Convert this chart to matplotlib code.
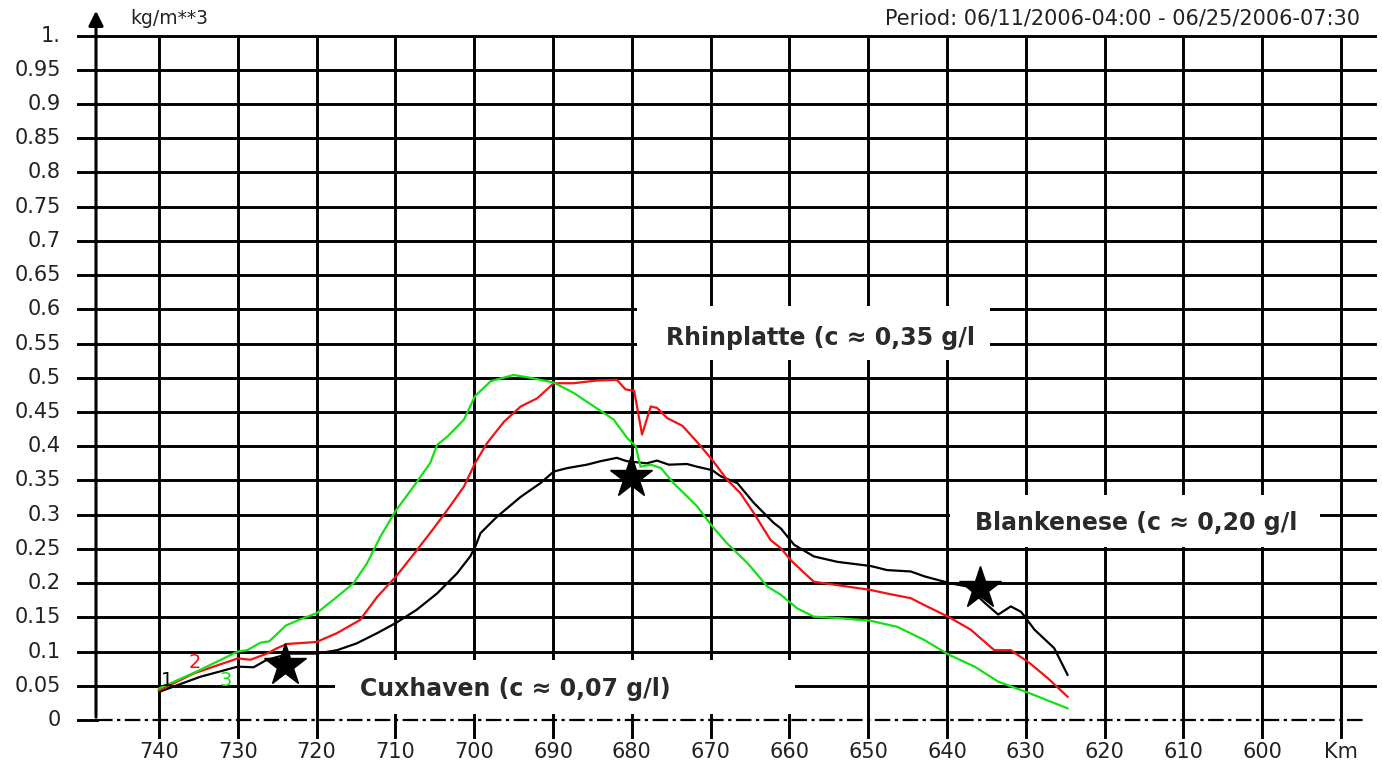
import matplotlib.pyplot as plt
from matplotlib.patches import Rectangle

# km along the river (decreasing downstream to upstream) and concentration in kg/m**3
KM_1 = [740, 734.8, 730, 728, 726.3, 723.4, 720, 717.4, 714.9, 712.3, 709.9, 707.3,
        704.7, 702.2, 700.5, 699.8, 699.2, 697.1, 694.1, 691.6, 689.9, 688.2, 685.7, 684,
        681.9, 680.6, 678.1, 676.8, 675.3, 673, 671.7, 669.8, 668.7, 666.6, 664.5,
        662, 661.1, 659.4, 656.9, 653.9, 649.7, 647.6, 644.6, 642.9, 639.7, 637.4,
        635.2, 633.5, 631.9, 630.6, 628.9, 626.4, 624.7]
VAL_1 = [0.041, 0.063, 0.078, 0.077, 0.088, 0.097, 0.097, 0.102, 0.112, 0.127, 0.142,
         0.161, 0.185, 0.214, 0.239, 0.255, 0.273, 0.297, 0.326, 0.346, 0.363, 0.368, 0.373,
         0.378, 0.383, 0.378, 0.375, 0.379, 0.373, 0.374, 0.370, 0.365, 0.356, 0.346,
         0.317, 0.288, 0.280, 0.256, 0.239, 0.231, 0.225, 0.219, 0.217, 0.210, 0.200,
         0.195, 0.171, 0.154, 0.166, 0.158, 0.132, 0.105, 0.066]

KM_2 = [740, 735.6, 730, 728.4, 726.3, 725, 723.8, 720, 717.4, 714.5, 712.3, 709.9,
        707.9, 705.6, 703.4, 701.3, 699.9, 698.4, 696.2, 694.1, 692, 689.9, 687.4,
        684.4, 681.9, 680.8, 679.7, 678.7, 677.6, 676.8, 675.5, 673.6, 671.7, 669.8,
        667.9, 666.2, 664.5, 662.4, 661.1, 659.7, 658.5, 656.9, 653.9, 649.7, 647.3,
        644.6, 642.9, 639.7, 637, 634, 631.9, 629.5, 627.2, 624.7]
VAL_2 = [0.043, 0.068, 0.090, 0.088, 0.097, 0.105, 0.111, 0.114, 0.127, 0.146, 0.180,
         0.210, 0.239, 0.273, 0.307, 0.341, 0.375, 0.404, 0.436, 0.458, 0.470, 0.492,
         0.492, 0.496, 0.497, 0.483, 0.481, 0.417, 0.458, 0.456, 0.441, 0.430, 0.406,
         0.380, 0.351, 0.331, 0.302, 0.263, 0.251, 0.232, 0.219, 0.202, 0.197, 0.190,
         0.184, 0.178, 0.168, 0.150, 0.132, 0.102, 0.102, 0.083, 0.061, 0.034]

KM_3 = [740, 735, 730, 728.8, 727.1, 726, 723.9, 722.1, 720, 717.4, 715.3, 713.6,
        711.9, 710, 707.7, 705.6, 704.7, 703.4, 701.3, 699.9, 697.9, 695, 692.9,
        689.9, 687.4, 684.8, 682.3, 680.6, 679.5, 678.9, 677.6, 676.3, 674.7, 671.7,
        669.8, 667.9, 665.3, 662.8, 661.1, 659, 656.9, 653.9, 649.7, 646.3, 642.9,
        639.7, 636.5, 633.5, 629.5, 624.7]
VAL_3 = [0.046, 0.072, 0.100, 0.102, 0.113, 0.115, 0.138, 0.147, 0.156, 0.180, 0.200,
         0.229, 0.268, 0.305, 0.341, 0.375, 0.402, 0.414, 0.439, 0.473, 0.495, 0.504,
         0.500, 0.493, 0.478, 0.458, 0.439, 0.412, 0.400, 0.370, 0.373, 0.368, 0.346,
         0.312, 0.283, 0.258, 0.229, 0.195, 0.183, 0.163, 0.151, 0.149, 0.145, 0.136,
         0.117, 0.095, 0.078, 0.056, 0.039, 0.017]

STATIONS = ["Cuxhaven (c ≈ 0,07 g/l)", "Rhinplatte (c ≈ 0,35 g/l", "Blankenese (c ≈ 0,20 g/l"]
STAR_KM = [724.0, 680.1, 635.8]
STAR_VAL = [0.080, 0.355, 0.193]

X_TICKS = list(range(740, 590, -10))
Y_TICKS = [i * 0.05 for i in range(21)]
Y_LABELS = ["0"] + [f"{v:g}" for v in Y_TICKS[1:-1]] + ["1."]

SERIES = [
    (KM_1, VAL_1, "black", "1"),
    (KM_2, VAL_2, "#f21212", "2"),
    (KM_3, VAL_3, "#14e014", "3"),
]

# pixel calibration of the reference: 740 km at x=159, 7.88 px per km; 0 at y=720, 684.5 px per 1.0
W, H = 1382, 771


def px_x(px):
    return 740 - (px - 159) / 7.88


def px_y(py):
    return (720 - py) / 684.5


fig = plt.figure(figsize=(W / 100, H / 100), dpi=100)
ax = fig.add_axes([0, 0, 1, 1])
ax.set_xlim(px_x(0), px_x(W))
ax.set_ylim(px_y(H), px_y(0))
ax.axis("off")

grid_kw = dict(color="black", lw=2.1, zorder=1, clip_on=False)
left, right = px_x(78), px_x(1375)
for v in Y_TICKS[1:]:
    ax.plot([left, right], [v, v], **grid_kw)
ax.plot([left, px_x(97)], [0, 0], **grid_kw)
ax.plot([px_x(97), px_x(1365)], [0, 0], color="black", lw=1.6,
        linestyle=(0, (7, 2, 1.5, 2)), zorder=1)
for k in X_TICKS + [590]:
    ax.plot([k, k], [px_y(737), 1.0], **grid_kw)

# y axis with arrow
ax.annotate("", xy=(px_x(96), px_y(8)), xytext=(px_x(96), 0),
            arrowprops=dict(arrowstyle="-|>", lw=2.2, color="black", mutation_scale=22),
            zorder=2)

# white label boxes covering the grid
boxes = [(335, 660, 795, 714), (637, 306, 990, 360), (950, 495, 1320, 547)]
for x0, y0, x1, y1 in boxes:
    ax.add_patch(Rectangle((px_x(x0), px_y(y1)), px_x(x1) - px_x(x0), px_y(y0) - px_y(y1),
                           facecolor="white", edgecolor="none", zorder=2))

for km, val, c, _ in SERIES:
    ax.plot(km, val, color=c, lw=1.6, zorder=3, solid_joinstyle="round")

ax.plot(STAR_KM, STAR_VAL, linestyle="none", marker="*", ms=32, color="black", zorder=4)

# curve numbers near the start
num_pos = [(167, 680), (195, 663), (226, 681)]
for (px, py), (_, _, c, lab) in zip(num_pos, SERIES):
    ax.text(px_x(px), px_y(py), lab, color=c, fontsize=14, ha="center", va="center", zorder=5)

station_pos = [(360, 689), (666, 338), (975, 523)]
for (px, py), name in zip(station_pos, STATIONS):
    ax.text(px_x(px), px_y(py), name, fontsize=17, fontweight="bold", color="#2a2a2a",
            ha="left", va="center", zorder=5)

tick_kw = dict(fontsize=15, color="#222222", zorder=5)
for k in X_TICKS:
    ax.text(k, px_y(752), str(k), ha="center", va="center", **tick_kw)
ax.text(590, px_y(752), "Km", ha="center", va="center", **tick_kw)
for v, lab in zip(Y_TICKS, Y_LABELS):
    ax.text(px_x(61), v, lab, ha="right", va="center", **tick_kw)

ax.text(px_x(130), px_y(18), "kg/m**3", ha="left", va="center", fontsize=13.5, color="#222222")
ax.text(px_x(1360), px_y(18), "Period: 06/11/2006-04:00 - 06/25/2006-07:30",
        ha="right", va="center", fontsize=15, color="#222222")

fig.savefig("out.png", dpi=100, facecolor="white")
